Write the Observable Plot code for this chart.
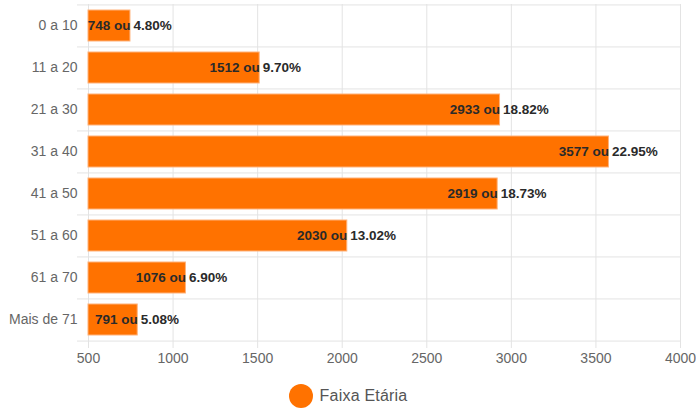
<!DOCTYPE html>
<html>
<head>
<meta charset="utf-8">
<script src="https://cdn.jsdelivr.net/npm/d3@7"></script>
<script src="https://cdn.jsdelivr.net/npm/@observablehq/plot@0.6"></script>
<style>
body { margin: 0; background: #fff; font-family: "Liberation Sans", Arial, sans-serif; }
#legend { display: flex; align-items: center; justify-content: center; height: 48px; margin-left: 0px; }
#legend .dot { width: 24px; height: 24px; border-radius: 50%; background: #ff7200; margin-right: 7px; }
#legend span { font-size: 16px; color: #555; letter-spacing: 0.2px; }
</style>
</head>
<body>
<div id="chart"></div>
<div id="legend"><div class="dot"></div><span>Faixa Etária</span></div>
<script>
const categories = ["0 a 10", "11 a 20", "21 a 30", "31 a 40", "41 a 50", "51 a 60", "61 a 70", "Mais de 71"];
const counts = [748, 1512, 2933, 3577, 2919, 2030, 1076, 791];
const percents = ["4.80%", "9.70%", "18.82%", "22.95%", "18.73%", "13.02%", "6.90%", "5.08%"];
const xTicks = [500, 1000, 1500, 2000, 2500, 3000, 3500, 4000];

const data = categories.map((c, i) => ({cat: c, value: counts[i], pct: percents[i]}));

const W = 696, H = 372, mt = 4, mb = 31, ml = 88, mr = 16;
const step = (H - mt - mb) / categories.length;
const grid = "#e3e3e3";

const chart = Plot.plot({
  width: W, height: H,
  marginTop: mt, marginBottom: mb, marginLeft: ml, marginRight: mr,
  style: {fontFamily: "'Liberation Sans', Arial, sans-serif", fontSize: "14px", color: "#666"},
  x: {domain: [500, 4000], ticks: xTicks, tickFormat: d => String(d)},
  y: {domain: categories, paddingInner: 0.26, paddingOuter: 0.13},
  marks: [
    Plot.ruleX(xTicks, {stroke: grid, insetBottom: -7}),
    Plot.ruleY(categories, {y: d => d, dy: -step / 2, stroke: grid, insetLeft: -11}),
    Plot.ruleY(categories.slice(-1), {y: d => d, dy: step / 2, stroke: grid, insetLeft: -11}),
    Plot.barX(data, {x1: 500, x2: "value", y: "cat", fill: "#ff7200", stroke: "#ffb27a", strokeWidth: 1}),
    Plot.text(data, {x: "value", y: "cat", text: d => d.value + " ou", textAnchor: "end", fill: "#2a2a2a", fontWeight: "bold", fontSize: 13.5}),
    Plot.text(data, {x: "value", y: "cat", text: "pct", textAnchor: "start", dx: 3, fill: "#2a2a2a", fontWeight: "bold", fontSize: 13.5}),
    Plot.axisX({ticks: xTicks, tickFormat: d => String(d), tickSize: 0, tickPadding: 12, label: null, fill: "#666", fontSize: 14}),
    Plot.axisY({tickSize: 0, tickPadding: 11, label: null, fill: "#666", fontSize: 14})
  ]
});
document.getElementById("chart").appendChild(chart);
</script>
</body>
</html>
